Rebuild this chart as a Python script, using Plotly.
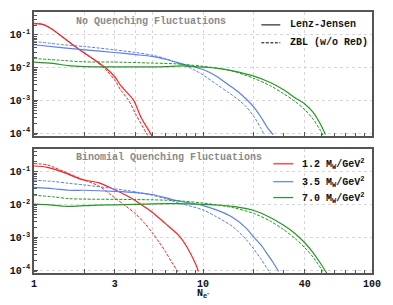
import plotly.graph_objects as go

# ---------------- data ----------------
# Panel 1: No Quenching Fluctuations
nq_red_lj_x = [1, 1.125, 1.26, 1.51, 1.85, 2.26, 2.65, 3.03, 3.25, 3.6, 3.89, 4.3, 4.88, 5.0]
nq_red_lj_y = [0.22, 0.21, 0.158, 0.079, 0.036, 0.018, 0.0099, 0.005, 0.0029, 0.0016, 0.001, 0.0003, 0.0001, 0.00008]
nq_red_zbl_x = [1, 1.125, 1.26, 1.51, 1.85, 2.26, 2.65, 3.03, 3.25, 3.63, 4.0, 4.62, 4.75]
nq_red_zbl_y = [0.22, 0.21, 0.158, 0.079, 0.036, 0.0175, 0.0088, 0.0039, 0.0021, 0.001, 0.00038, 0.0001, 0.00008]

nq_blue_lj_x = [1, 1.5, 2, 3, 4, 5, 6, 7, 8, 10, 12, 14, 16, 18, 20, 22, 24, 26]
nq_blue_lj_y = [0.050, 0.040, 0.035, 0.029, 0.025, 0.022, 0.018, 0.0145, 0.012, 0.0088, 0.0055,
                0.0031, 0.0019, 0.0011, 0.00062, 0.00031, 0.00015, 0.00009]
nq_blue_zbl_x = [1, 1.5, 2, 3, 4, 5, 6, 7, 8, 9, 10, 12, 14, 16, 18, 20, 22, 23]
nq_blue_zbl_y = [0.063, 0.050, 0.044, 0.035, 0.029, 0.024, 0.019, 0.014, 0.011, 0.0082, 0.0060,
                 0.0031, 0.0018, 0.0011, 0.00064, 0.00032, 0.00014, 0.00009]

nq_green_lj_x = [1, 1.3, 1.6, 2, 3, 4, 5, 6, 7, 8, 10, 12, 15, 20, 25, 30, 35, 40, 45, 50, 53]
nq_green_lj_y = [0.0148, 0.0135, 0.0115, 0.0108, 0.0106, 0.0106, 0.0105, 0.0107, 0.0112, 0.0112,
                 0.0104, 0.0096, 0.0080, 0.0055, 0.0035, 0.0021, 0.0012, 0.00078, 0.00042,
                 0.00017, 0.00009]
nq_green_zbl_x = [1, 1.5, 2, 3, 5, 7, 10, 12, 15, 20, 25, 30, 35, 40, 45, 50, 51.5]
nq_green_zbl_y = [0.019, 0.0165, 0.015, 0.0148, 0.0138, 0.013, 0.011, 0.0097, 0.0078, 0.0047,
                  0.0028, 0.0016, 0.00093, 0.00052, 0.00026, 0.00011, 0.00008]

# Panel 2: Binomial Quenching Fluctuations
bq_red_lj_x = [1, 1.2, 1.5, 1.9, 2.4, 3, 3.5, 4, 4.5, 5, 6, 7, 7.33, 8, 9, 9.4]
bq_red_lj_y = [0.148, 0.135, 0.095, 0.058, 0.046, 0.028, 0.019, 0.0128, 0.0085, 0.0058, 0.0026,
               0.0013, 0.001, 0.00052, 0.00016, 0.00009]
bq_red_zbl_x = [1, 1.2, 1.5, 1.9, 2.4, 3, 3.5, 4, 4.5, 5, 5.5, 6, 6.5, 7, 7.2]
bq_red_zbl_y = [0.175, 0.16, 0.10, 0.06, 0.037, 0.016, 0.0088, 0.0051, 0.0027, 0.0014, 0.0007,
                0.00036, 0.00018, 0.0001, 0.00008]

bq_blue_lj_x = [1, 1.3, 1.6, 2, 3, 4, 5, 6, 7, 8, 10, 12, 15, 18, 20, 22, 24, 26, 28]
bq_blue_lj_y = [0.033, 0.030, 0.027, 0.027, 0.025, 0.023, 0.020, 0.016, 0.013, 0.0115, 0.0092,
                0.0068, 0.0040, 0.0019, 0.0010, 0.00058, 0.00031, 0.00017, 0.00009]
bq_blue_zbl_x = [1, 1.3, 1.6, 2, 3, 4, 5, 6, 7, 8, 10, 12, 15, 18, 20, 22, 24, 25]
bq_blue_zbl_y = [0.055, 0.05, 0.044, 0.039, 0.030, 0.024, 0.019, 0.015, 0.0115, 0.0095, 0.0068,
                 0.0042, 0.0021, 0.00085, 0.00043, 0.00022, 0.00011, 0.00008]

bq_green_lj_x = [1, 1.2, 1.5, 1.8, 2.2, 3, 4, 5, 7, 10, 12, 15, 20, 25, 30, 35, 40, 45, 50, 54]
bq_green_lj_y = [0.0102, 0.0098, 0.0088, 0.0089, 0.0094, 0.0097, 0.0100, 0.0104, 0.0105, 0.0100,
                 0.0096, 0.0087, 0.0065, 0.0040, 0.0023, 0.0013, 0.00068, 0.00033, 0.00015,
                 0.00008]
bq_green_zbl_x = [1, 1.3, 1.6, 2, 3, 5, 7, 10, 12, 15, 20, 25, 30, 35, 40, 45, 50, 52]
bq_green_zbl_y = [0.019, 0.017, 0.015, 0.0145, 0.0143, 0.0138, 0.013, 0.011, 0.0097, 0.0080,
                  0.0053, 0.0031, 0.0017, 0.00092, 0.00048, 0.00024, 0.00011, 0.00008]

panel_titles = ["No Quenching Fluctuations", "Binomial Quenching Fluctuations"]
model_labels = ["Lenz-Jensen", "ZBL (w/o ReD)"]
mass_labels = ["1.2 M<sub>W</sub>/GeV<sup>2</sup>", "3.5 M<sub>W</sub>/GeV<sup>2</sup>",
               "7.0 M<sub>W</sub>/GeV<sup>2</sup>"]
x_tick_vals = [1, 2, 3, 4, 5, 10, 20, 40, 100]
x_tick_text = ["1", "", "3", "", "", "10", "", "40", "100"]
x_minor_vals = [6, 7, 8, 9, 30, 50, 60, 70, 80, 90]
y_tick_vals = [1e-4, 1e-3, 1e-2, 1e-1]
y_tick_text = ["10<sup>-4</sup>", "10<sup>-3</sup>", "10<sup>-2</sup>", "10<sup>-1</sup>"]
y_minor_vals = [m * 10.0 ** e for e in (-5, -4, -3, -2, -1) for m in range(2, 10)]

# ---------------- styling ----------------
RED, BLUE, GREEN = "#ff2020", "#5a7ff0", "#229922"
FONT = "Liberation Mono"
DASH = "3px,1.5px"

fig = go.Figure()

series = [
    ("x", "y", nq_red_lj_x, nq_red_lj_y, RED, "solid"),
    ("x", "y", nq_red_zbl_x, nq_red_zbl_y, RED, DASH),
    ("x", "y", nq_blue_lj_x, nq_blue_lj_y, BLUE, "solid"),
    ("x", "y", nq_blue_zbl_x, nq_blue_zbl_y, BLUE, DASH),
    ("x", "y", nq_green_lj_x, nq_green_lj_y, GREEN, "solid"),
    ("x", "y", nq_green_zbl_x, nq_green_zbl_y, GREEN, DASH),
    ("x2", "y2", bq_red_lj_x, bq_red_lj_y, RED, "solid"),
    ("x2", "y2", bq_red_zbl_x, bq_red_zbl_y, RED, DASH),
    ("x2", "y2", bq_blue_lj_x, bq_blue_lj_y, BLUE, "solid"),
    ("x2", "y2", bq_blue_zbl_x, bq_blue_zbl_y, BLUE, DASH),
    ("x2", "y2", bq_green_lj_x, bq_green_lj_y, GREEN, "solid"),
    ("x2", "y2", bq_green_zbl_x, bq_green_zbl_y, GREEN, DASH),
]
for xa, ya, xs, ys, col, dash in series:
    fig.add_trace(go.Scatter(
        x=xs, y=ys, xaxis=xa, yaxis=ya, mode="lines", showlegend=False,
        line=dict(color=col, width=1.2 if dash == "solid" else 1.0, dash=dash,
                  shape="spline", smoothing=0.8),
        hoverinfo="skip"))

axis_common = dict(
    type="log", showline=True, linecolor="#555555", linewidth=1.5, mirror=True,
    ticks="inside", tickcolor="#555555", ticklen=4, tickwidth=1,
    showgrid=True, gridcolor="#d6d6d6", griddash="dot", gridwidth=1,
    zeroline=False,
    tickfont=dict(family=FONT, size=10, color="#111111", weight="bold"),
)

xaxis_common = dict(axis_common, range=[0, 2], tickmode="array", tickvals=x_tick_vals,
                    minor=dict(tickmode="array", tickvals=x_minor_vals, ticks="inside",
                               ticklen=3, tickcolor="#555555", showgrid=False))
yaxis_common = dict(axis_common, range=[-4.09, -0.30], tickmode="array",
                    tickvals=y_tick_vals, ticktext=y_tick_text,
                    minor=dict(tickmode="array", tickvals=y_minor_vals, ticks="inside",
                               ticklen=3, tickcolor="#555555", showgrid=False))

fig.update_layout(
    width=393, height=305,
    margin=dict(l=33, r=21, t=10, b=32),
    paper_bgcolor="white", plot_bgcolor="white",
    showlegend=False,
    xaxis=dict(xaxis_common, anchor="y", ticktext=[""] * len(x_tick_vals)),
    yaxis=dict(yaxis_common, domain=[0.5247, 1.0], anchor="x"),
    xaxis2=dict(xaxis_common, anchor="y2", ticktext=x_tick_text),
    yaxis2=dict(yaxis_common, domain=[0.0, 0.4753], anchor="x2",
                range=[-4.09, -0.31]),
)

annotations = []
shapes = []
# panel titles
for ytitle, txt in zip([0.962, 0.441], panel_titles):
    annotations.append(dict(xref="paper", yref="paper", x=0.118, y=ytitle, text=txt,
                            showarrow=False, xanchor="left", yanchor="middle",
                            font=dict(family=FONT, size=10, color="#8a8a8a", weight="bold")))
# model legend (top panel)
for yy, txt, dash in zip([0.9506, 0.882], model_labels, ["solid", DASH]):
    shapes.append(dict(type="line", xref="paper", yref="paper", x0=0.6726, x1=0.7286,
                       y0=yy, y1=yy, line=dict(color="black", width=1, dash=dash)))
    annotations.append(dict(xref="paper", yref="paper", x=0.752, y=yy, text=txt,
                            showarrow=False, xanchor="left", yanchor="middle",
                            font=dict(family=FONT, size=10, color="#111111", weight="bold")))
# mass legend (bottom panel)
for yy, txt, col in zip([0.4183, 0.3498, 0.289], mass_labels, [RED, BLUE, GREEN]):
    shapes.append(dict(type="line", xref="paper", yref="paper", x0=0.708, x1=0.767,
                       y0=yy, y1=yy, line=dict(color=col, width=1.2)))
    annotations.append(dict(xref="paper", yref="paper", x=0.7876, y=yy, text=txt,
                            showarrow=False, xanchor="left", yanchor="middle",
                            font=dict(family=FONT, size=10, color="#111111", weight="bold")))
# x axis title
annotations.append(dict(xref="paper", yref="paper", x=0.5015, y=-0.08,
                        text="N<sub>e⁻</sub>", showarrow=False, xanchor="center",
                        yanchor="middle",
                        font=dict(family=FONT, size=10, color="#111111", weight="bold")))

fig.update_layout(annotations=annotations, shapes=shapes)
fig.write_html("out.html", config={"displayModeBar": False},
               post_script="document.body.style.margin='0';document.body.style.padding='0';")
